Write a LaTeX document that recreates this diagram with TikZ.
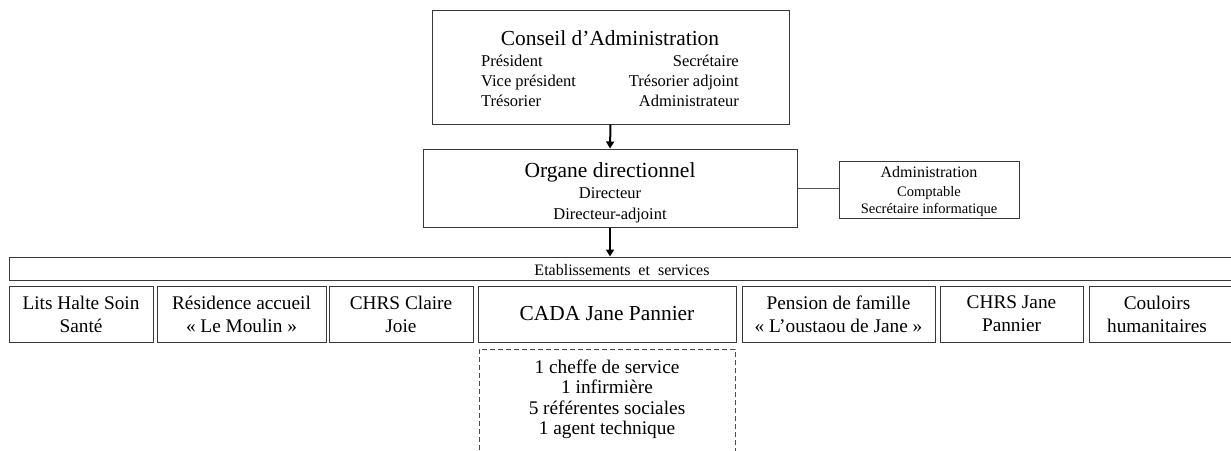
\documentclass[tikz,border=0pt]{standalone}
\usepackage{fontspec}
\setmainfont{Liberation Serif}
\usetikzlibrary{arrows.meta}
\newcommand{\fsz}[2]{\fontsize{#1}{#2}\selectfont}
\tikzset{
  box/.style={draw=black!78, line width=1pt, fill=white, inner sep=0pt},
  dbox/.style={draw=black!70, line width=1pt, dash pattern=on 5pt off 3pt, inner sep=0pt},
  txt/.style={inner sep=0pt, anchor=base},
  unit/.style={box, minimum height=56pt, align=center, font=\fsz{19.3}{23}},
  arr/.style={line width=2pt, -{Triangle[length=7pt,width=8pt]}},
  link/.style={draw=black!65, line width=0.8pt}
}
\begin{document}
\begin{tikzpicture}[x=1pt,y=-1pt]
\useasboundingbox (0,0) rectangle (1231,450);
\clip (0,0) rectangle (1231,450);

% Conseil d'Administration
\node[box, minimum width=357pt, minimum height=114pt] (ca) at (610.5,67) {};
\node[txt, font=\fsz{21.4}{24}] (cat) at (610,45) {Conseil d’Administration};
\node[txt, anchor=base west, font=\fsz{16.5}{20}] (c1) at (481,66) {Président};
\node[txt, anchor=base west, font=\fsz{16.5}{20}] (c2) at (481,86) {Vice président};
\node[txt, anchor=base west, font=\fsz{16.5}{20}] (c3) at (481,106) {Trésorier};
\node[txt, anchor=base east, font=\fsz{16.5}{20}] (c4) at (739,66) {Secrétaire};
\node[txt, anchor=base east, font=\fsz{16.5}{20}] (c5) at (739,86) {Trésorier adjoint};
\node[txt, anchor=base east, font=\fsz{16.5}{20}] (c6) at (739,106) {Administrateur};

% Organe directionnel
\node[box, minimum width=374pt, minimum height=78pt] (org) at (610,188) {};
\node[txt, font=\fsz{21.5}{24}] (orgt) at (610,177) {Organe directionnel};
\node[txt, font=\fsz{16.5}{20}] (o1) at (610,198) {Directeur};
\node[txt, font=\fsz{16.5}{20}] (o2) at (610,219) {Directeur-adjoint};

% Administration
\node[box, minimum width=180pt, minimum height=57pt] (adm) at (929,189.5) {};
\node[txt, font=\fsz{16}{18}] (admt) at (929,177) {Administration};
\node[txt, font=\fsz{14.5}{18}] (a1) at (929,196) {Comptable};
\node[txt, font=\fsz{14.5}{18}] (a2) at (929,213) {Secrétaire informatique};

% Etablissements et services bar
\node[box, minimum width=1240pt, minimum height=23pt] (bar) at (629,268.5) {};
\node[txt, font=\fsz{16}{18}] (bart) at (622,275) {Etablissements\ \ et\ \ services};

% Units
\node[unit, minimum width=144pt] (lits) at (81,314) {Lits Halte Soin\\Santé};
\node[unit, minimum width=169pt] (res) at (241.5,314) {Résidence accueil\\« Le Moulin »};
\node[unit, minimum width=144pt] (chrsc) at (401,314) {CHRS Claire\\Joie};
\node[unit, minimum width=258pt, font=\fsz{21.4}{24}] (cada) at (607,314) {CADA Jane Pannier};
\node[unit, minimum width=193pt] (pens) at (838.5,314) {Pension de famille\\« L’oustaou de Jane »};
\node[unit, minimum width=143pt] (chrsj) at (1011.5,314) {CHRS Jane\\Pannier};
\node[box, minimum width=160pt, minimum height=56pt] (coul) at (1169,314) {};
\node[inner sep=0pt, align=center, font=\fsz{19.3}{23}] (coult) at (1157,314) {Couloirs\\humanitaires};

% CADA staff (dashed)
\node[dbox, minimum width=256pt, minimum height=120pt] (staff) at (607,409) {};
\node[txt, font=\fsz{19.3}{20.5}] (s1) at (607,373) {1 cheffe de service};
\node[txt, font=\fsz{19.3}{20.5}] (s2) at (607,393.5) {1 infirmière};
\node[txt, font=\fsz{19.3}{20.5}] (s3) at (607,414) {5 référentes sociales};
\node[txt, font=\fsz{19.3}{20.5}] (s4) at (607,434.5) {1 agent technique};

% connectors
\draw[arr] (ca.south) -- (org.north);
\draw[arr] (org.south) -- (org.south |- bar.north);
\draw[link] (org.east) -- (org.east -| adm.west);
\end{tikzpicture}
\end{document}
